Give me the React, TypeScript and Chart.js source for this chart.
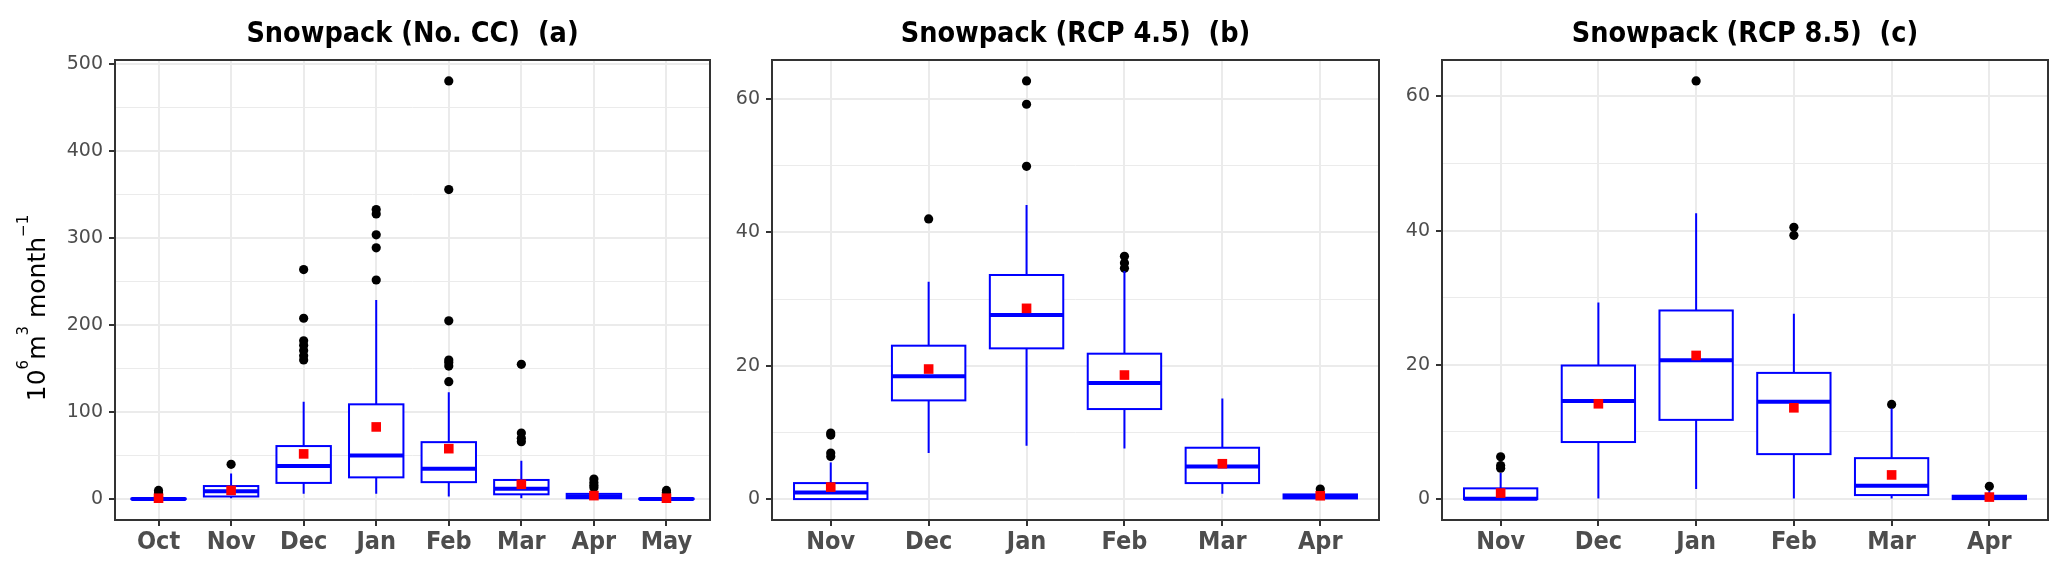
import React, { useEffect, useRef } from 'react';
import { Chart, registerables } from 'chart.js';

Chart.register(...registerables);

// ---------- Panel (a): No climate change ----------
const monthsA = ['Oct', 'Nov', 'Dec', 'Jan', 'Feb', 'Mar', 'Apr', 'May'];
const lowA = [0, 1, 6, 6, 3, 1, 0, 0];
const q1A = [0, 3, 18.6, 25, 19.5, 5.5, 1, 0];
const medA = [0, 9, 38, 50, 35, 12, 3, 0];
const q3A = [0.5, 15, 61, 109, 65.5, 22, 6, 0.5];
const highA = [1, 29.5, 112, 229, 123, 44, 9, 1];
const meanA = [1, 10, 52, 83, 58, 17, 4, 1];
const outA = [
  [10, 7, 5, 3],
  [40],
  [264, 208, 182, 177, 171, 165, 160],
  [333, 328, 304, 289, 252],
  [481, 356, 205, 160, 157, 153, 135],
  [155, 76, 70, 66],
  [23, 19, 16, 13],
  [10, 8],
];
const yMajorA = [0, 100, 200, 300, 400, 500];
const yMinorA = [50, 150, 250, 350, 450];

// ---------- Panel (b): RCP 4.5 ----------
const monthsB = ['Nov', 'Dec', 'Jan', 'Feb', 'Mar', 'Apr'];
const lowB = [0, 6.9, 8.0, 7.6, 0.8, 0];
const q1B = [0, 14.8, 22.6, 13.5, 2.4, 0.1];
const medB = [1.0, 18.4, 27.6, 17.4, 4.9, 0.4];
const q3B = [2.4, 23.0, 33.6, 21.8, 7.7, 0.7];
const highB = [5.5, 32.6, 44.1, 34.2, 15.1, 1.2];
const meanB = [1.8, 19.5, 28.6, 18.6, 5.3, 0.5];
const outB = [
  [9.9, 9.6, 6.9, 6.4],
  [42.0],
  [62.7, 59.2, 49.9],
  [36.4, 35.4, 34.6],
  [],
  [1.5],
];
const yMajorB = [0, 20, 40, 60];
const yMinorB = [10, 30, 50];

// ---------- Panel (c): RCP 8.5 ----------
const monthsC = ['Nov', 'Dec', 'Jan', 'Feb', 'Mar', 'Apr'];
const lowC = [0, 0.1, 1.5, 0.1, 0.1, 0];
const q1C = [0, 8.5, 11.8, 6.7, 0.6, 0];
const medC = [0.05, 14.6, 20.7, 14.5, 2.0, 0.2];
const q3C = [1.6, 19.9, 28.1, 18.8, 6.1, 0.5];
const highC = [3.9, 29.3, 42.6, 27.6, 13.5, 1.2];
const meanC = [0.9, 14.2, 21.4, 13.6, 3.6, 0.3];
const outC = [
  [6.3, 5.0, 4.6],
  [],
  [62.3],
  [40.5, 39.3],
  [14.1],
  [1.9],
];
const yMajorC = [0, 20, 40, 60];
const yMinorC = [10, 30, 50];

const titleA = 'Snowpack (No. CC)  (a)';
const titleB = 'Snowpack (RCP 4.5)  (b)';
const titleC = 'Snowpack (RCP 8.5)  (c)';
// y-axis title as (text, superscript?) pieces: 10^6 m^3 month^-1
const yTitleParts: [string, boolean][] = [
  ['10', false],
  ['6', true],
  ['m', false],
  ['3', true],
  [' month', false],
  ['\u22121', true],
];

const CONDENSED = '"DejaVu Sans Condensed", "DejaVu Sans", sans-serif';
const REGULAR = '"DejaVu Sans", sans-serif';

const boxPlugin = {
  id: 'boxes',
  afterDatasetDraw(chart: any, args: any, opts: any) {
    if (args.index !== 1) return;
    const { ctx, chartArea } = chart;
    const xs = chart.scales.x;
    const ys = chart.scales.y;
    ctx.save();
    ctx.beginPath();
    ctx.rect(chartArea.left, chartArea.top, chartArea.right - chartArea.left, chartArea.bottom - chartArea.top);
    ctx.clip();
    ctx.strokeStyle = '#0000FF';
    const n = opts.q1.length;
    for (let i = 0; i < n; i++) {
      const xc = xs.getPixelForValue(i + 1);
      const hw = xs.getPixelForValue(i + 1 + 0.375) - xc;
      const yLo = ys.getPixelForValue(opts.low[i]);
      const yQ1 = ys.getPixelForValue(opts.q1[i]);
      const yMed = ys.getPixelForValue(opts.med[i]);
      const yQ3 = ys.getPixelForValue(opts.q3[i]);
      const yHi = ys.getPixelForValue(opts.high[i]);
      ctx.lineWidth = 2;
      ctx.beginPath();
      ctx.moveTo(xc, yQ3);
      ctx.lineTo(xc, yHi);
      ctx.moveTo(xc, yQ1);
      ctx.lineTo(xc, yLo);
      ctx.stroke();
      ctx.fillStyle = '#FFFFFF';
      ctx.fillRect(xc - hw, yQ3, 2 * hw, yQ1 - yQ3);
      ctx.strokeRect(xc - hw, yQ3, 2 * hw, yQ1 - yQ3);
      ctx.lineWidth = 4;
      ctx.beginPath();
      ctx.moveTo(xc - hw, yMed);
      ctx.lineTo(xc + hw, yMed);
      ctx.stroke();
    }
    ctx.restore();
  },
};

const framePlugin = {
  id: 'frame',
  afterDraw(chart: any, _args: any, opts: any) {
    const { ctx, chartArea } = chart;
    ctx.save();
    ctx.strokeStyle = '#333333';
    ctx.lineWidth = 2;
    ctx.strokeRect(chartArea.left, chartArea.top, chartArea.right - chartArea.left, chartArea.bottom - chartArea.top);
    ctx.fillStyle = '#000000';
    ctx.font = `bold 28.5px ${CONDENSED}`;
    ctx.textAlign = 'center';
    ctx.textBaseline = 'alphabetic';
    ctx.fillText(opts.title, (chartArea.left + chartArea.right) / 2, chartArea.top - 18.5);
    if (opts.yTitle) {
      const parts: [string, boolean][] = opts.yTitle;
      const mainFont = `25px ${REGULAR}`;
      const supFont = `15px ${REGULAR}`;
      let total = 0;
      const widths = parts.map(([t, sup]) => {
        ctx.font = sup ? supFont : mainFont;
        const w = ctx.measureText(t).width;
        total += w;
        return w;
      });
      ctx.translate(45, (chartArea.top + chartArea.bottom) / 2 + 18);
      ctx.rotate(-Math.PI / 2);
      ctx.textAlign = 'left';
      let x = -total / 2;
      parts.forEach(([t, sup], i) => {
        ctx.font = sup ? supFont : mainFont;
        ctx.fillText(t, x, sup ? -17 : 0);
        x += widths[i];
      });
    }
    ctx.restore();
  },
};

type PanelProps = {
  left: number;
  width: number;
  yAxisWidth: number;
  rightPad: number;
  months: string[];
  low: number[];
  q1: number[];
  med: number[];
  q3: number[];
  high: number[];
  mean: number[];
  outliers: number[][];
  yMajor: number[];
  yMinor: number[];
  title: string;
  yTitle?: [string, boolean][];
};

function Panel(p: PanelProps) {
  const ref = useRef<HTMLCanvasElement | null>(null);
  useEffect(() => {
    if (!ref.current) return;
    const n = p.months.length;
    const xVals = p.months.map((_, i) => i + 1);
    const outPts = p.outliers.flatMap((arr, i) => arr.map((v) => ({ x: i + 1, y: v })));
    const meanPts = p.mean.map((v, i) => ({ x: i + 1, y: v }));
    const all = [...p.low, ...p.high, ...p.outliers.flat()];
    const dMin = Math.min(...all);
    const dMax = Math.max(...all);
    const ex = 0.05 * (dMax - dMin);
    const yTicks = [...p.yMajor, ...p.yMinor].sort((a, b) => a - b);
    const isMajor = (v: number) => p.yMajor.includes(v);
    const chart = new Chart(ref.current, {
      type: 'scatter',
      data: {
        datasets: [
          {
            label: 'mean',
            data: meanPts,
            pointStyle: 'rect',
            pointRadius: 6.8,
            pointHoverRadius: 6.8,
            backgroundColor: '#FF0000',
            borderWidth: 0,
          },
          {
            label: 'outliers',
            data: outPts,
            pointStyle: 'circle',
            pointRadius: 4.6,
            pointHoverRadius: 4.6,
            backgroundColor: '#000000',
            borderWidth: 0,
          },
        ],
      },
      options: {
        animation: false,
        responsive: false,
        events: [],
        layout: { padding: { left: 0, right: p.rightPad, top: 60, bottom: 0 } },
        plugins: {
          legend: { display: false },
          tooltip: { enabled: false },
          title: { display: false },
          boxes: { low: p.low, q1: p.q1, med: p.med, q3: p.q3, high: p.high },
          frame: { title: p.title, yTitle: p.yTitle },
        } as any,
        scales: {
          x: {
            type: 'linear',
            min: 0.4,
            max: n + 0.6,
            afterBuildTicks: (s: any) => {
              s.ticks = xVals.map((v) => ({ value: v }));
            },
            afterFit: (s: any) => {
              s.height = 55;
            },
            ticks: {
              autoSkip: false,
              maxRotation: 0,
              padding: 1,
              color: '#4D4D4D',
              font: { family: CONDENSED, size: 25, weight: 'bold' },
              callback: (v: any) => p.months[Math.round(Number(v)) - 1] ?? '',
            },
            grid: { color: '#EBEBEB', lineWidth: 2, tickColor: '#333333', tickWidth: 2, tickLength: 6 },
            border: { display: false },
          },
          y: {
            type: 'linear',
            min: dMin - ex,
            max: dMax + ex,
            afterBuildTicks: (s: any) => {
              s.ticks = yTicks.map((v) => ({ value: v }));
            },
            afterFit: (s: any) => {
              s.width = p.yAxisWidth;
            },
            ticks: {
              autoSkip: false,
              padding: 6,
              color: '#4D4D4D',
              font: { family: REGULAR, size: 19 },
              callback: (v: any) => (isMajor(Number(v)) ? String(v) : ''),
            },
            grid: {
              color: '#EBEBEB',
              lineWidth: (ctx: any) => (ctx.tick && isMajor(ctx.tick.value) ? 2 : 1),
              tickColor: (ctx: any) => (ctx.tick && isMajor(ctx.tick.value) ? '#333333' : 'rgba(0,0,0,0)'),
              tickWidth: 2,
              tickLength: 6,
            },
            border: { display: false },
          },
        },
      } as any,
      plugins: [boxPlugin, framePlugin],
    });
    return () => chart.destroy();
  }, []);
  return (
    <canvas
      ref={ref}
      width={p.width}
      height={575}
      style={{ position: 'absolute', left: p.left, top: 0, width: p.width, height: 575 }}
    />
  );
}

export default function App() {
  return (
    <div style={{ position: 'absolute', left: 0, top: 0, width: 2067, height: 575, overflow: 'hidden', background: '#FFFFFF' }}>
      <Panel
        left={0}
        width={730}
        yAxisWidth={115}
        rightPad={20}
        months={monthsA}
        low={lowA}
        q1={q1A}
        med={medA}
        q3={q3A}
        high={highA}
        mean={meanA}
        outliers={outA}
        yMajor={yMajorA}
        yMinor={yMinorA}
        title={titleA}
        yTitle={yTitleParts}
      />
      <Panel
        left={730}
        width={669}
        yAxisWidth={42}
        rightPad={20}
        months={monthsB}
        low={lowB}
        q1={q1B}
        med={medB}
        q3={q3B}
        high={highB}
        mean={meanB}
        outliers={outB}
        yMajor={yMajorB}
        yMinor={yMinorB}
        title={titleB}
      />
      <Panel
        left={1399}
        width={668}
        yAxisWidth={43}
        rightPad={19}
        months={monthsC}
        low={lowC}
        q1={q1C}
        med={medC}
        q3={q3C}
        high={highC}
        mean={meanC}
        outliers={outC}
        yMajor={yMajorC}
        yMinor={yMinorC}
        title={titleC}
      />
    </div>
  );
}
